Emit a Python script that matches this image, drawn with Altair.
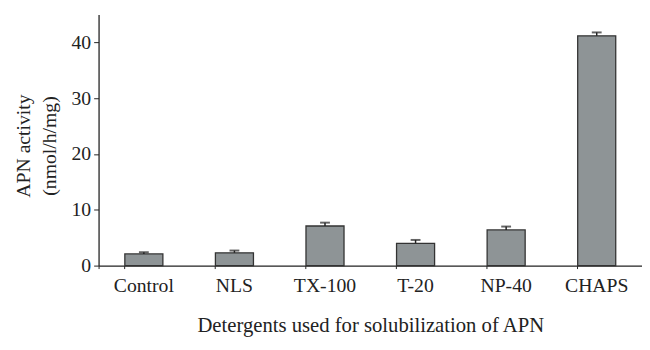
import altair as alt
import pandas as pd

categories = ["Control", "NLS", "TX-100", "T-20", "NP-40", "CHAPS"]
values = [2.1, 2.3, 7.1, 4.0, 6.4, 41.2]
errors = [0.3, 0.4, 0.6, 0.6, 0.6, 0.6]

df = pd.DataFrame({"cat": categories, "val": values, "err": errors})
df["hi"] = df["val"] + df["err"]

FONT = "Liberation Serif"
INK = "#222222"

x_enc = alt.X("cat:N", sort=categories, title="Detergents used for solubilization of APN",
              scale=alt.Scale(paddingInner=0.58, paddingOuter=0.29),
              axis=alt.Axis(labelAngle=0, labelFont=FONT, labelFontSize=20, labelColor=INK,
                            titleFont=FONT, titleFontSize=21, titleFontWeight="normal", titleColor=INK,
                            titlePadding=20, labelPadding=7, bandPosition=0, tickExtra=True,
                            tickSize=3, tickColor=INK, domainColor=INK, domainWidth=1.3))

bars = alt.Chart(df).mark_bar(fill="#8e9496", stroke="#333333", strokeWidth=1.3).encode(
    x=x_enc,
    y=alt.Y("val:Q", scale=alt.Scale(domain=[0, 45], nice=False),
            title=["APN activity", "(nmol/h/mg)"],
            axis=alt.Axis(values=[0, 10, 20, 30, 40], labelFont=FONT, labelFontSize=20,
                          labelColor=INK, titleFont=FONT, titleFontSize=20,
                          titleFontWeight="normal", titleColor=INK, titleLineHeight=26,
                          titlePadding=12, titleY=133, tickSize=5, tickColor=INK, domainColor=INK,
                          domainWidth=1.3, grid=False, labelPadding=3)),
)

err_rule = alt.Chart(df).mark_rule(color="#222222", strokeWidth=1.5).encode(
    x=alt.X("cat:N", sort=categories),
    y="val:Q",
    y2="hi:Q",
)

caps = alt.Chart(df).mark_tick(color="#222222", thickness=2, size=10).encode(
    x=alt.X("cat:N", sort=categories),
    y="hi:Q",
)

chart = alt.layer(bars, err_rule, caps).properties(
    width=552, height=255,
    background="white",
    autosize=alt.AutoSizeParams(type="none"),
    padding={"left": 92, "top": 4, "right": 0, "bottom": 80},
).configure_view(stroke=None)

chart.save("out.html", embed_options={"renderer": "svg", "actions": False})
